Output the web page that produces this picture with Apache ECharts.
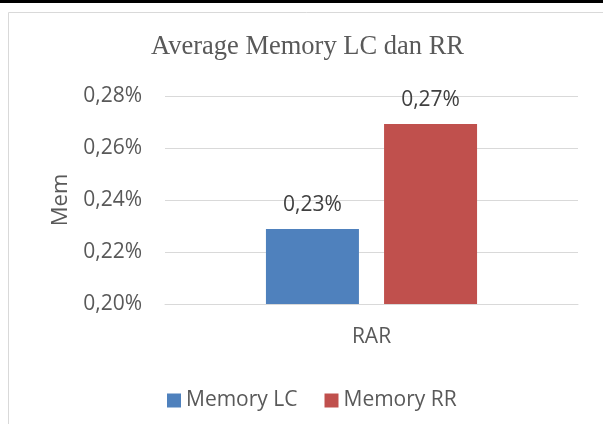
<!DOCTYPE html>
<html>
<head>
<meta charset="utf-8">
<script src="https://cdn.jsdelivr.net/npm/echarts@6/dist/echarts.min.js"></script>
<style>
  html, body { margin: 0; padding: 0; background: #fff; }
  #chart { width: 603px; height: 424px; }
</style>
</head>
<body>
<div id="chart"></div>
<script>
const categories = ['RAR']
const seriesNames = ['Memory LC', 'Memory RR']
const memoryLC = [0.2288]
const memoryRR = [0.2692]
const yTicks = [0.20, 0.22, 0.24, 0.26, 0.28]

const fmt = v => v.toFixed(2).replace('.', ',') + '%'

const chart = echarts.init(document.getElementById('chart'))

const option = {
  animation: false,
  title: {
    text: 'Average Memory LC dan RR',
    left: 151,
    top: 34,
    padding: 0,
    textStyle: {
      fontFamily: 'Liberation Serif',
      fontSize: 26.5,
      fontWeight: 'normal',
      color: '#595959'
    }
  },
  graphic: [
    { type: 'rect', shape: { x: 0, y: 0, width: 603, height: 3 }, style: { fill: '#000' } },
    { type: 'rect', shape: { x: 8.5, y: 12.5, width: 700, height: 500 }, style: { fill: 'none', stroke: '#d9d9d9', lineWidth: 1 } }
  ],
  legend: {
    data: seriesNames,
    left: 167,
    top: 390,
    padding: 0,
    icon: 'rect',
    itemWidth: 14,
    itemHeight: 14,
    itemGap: 27,
    textStyle: {
      fontFamily: 'Open Sans',
      fontSize: 21,
      color: '#595959'
    }
  },
  grid: {
    left: 165,
    right: 25,
    top: 96,
    bottom: 120,
    containLabel: false
  },
  xAxis: {
    type: 'category',
    data: categories,
    axisLine: { lineStyle: { color: '#d9d9d9' } },
    axisTick: { show: false },
    axisLabel: {
      margin: 23,
      fontFamily: 'Open Sans',
      fontSize: 21,
      color: '#595959'
    }
  },
  yAxis: {
    type: 'value',
    min: yTicks[0],
    max: yTicks[yTicks.length - 1],
    interval: 0.02,
    name: 'Mem',
    nameLocation: 'middle',
    nameGap: 93,
    nameTextStyle: {
      fontFamily: 'Open Sans',
      fontSize: 22,
      color: '#595959'
    },
    axisLine: { show: false },
    axisTick: { show: false },
    splitLine: { lineStyle: { color: '#d9d9d9', width: 1 } },
    axisLabel: {
      margin: 23,
      formatter: fmt,
      fontFamily: 'Open Sans',
      fontSize: 21,
      color: '#595959'
    }
  },
  series: [
    {
      name: seriesNames[0],
      type: 'bar',
      data: memoryLC,
      barWidth: 93,
      barGap: '27%',
      itemStyle: { color: '#4F81BD' },
      label: {
        show: true,
        position: 'top',
        distance: 14,
        formatter: p => fmt(p.value),
        fontFamily: 'Open Sans',
        fontSize: 21,
        color: '#404040'
      }
    },
    {
      name: seriesNames[1],
      type: 'bar',
      data: memoryRR,
      barWidth: 93,
      barGap: '27%',
      itemStyle: { color: '#C0504D' },
      label: {
        show: true,
        position: 'top',
        distance: 14,
        formatter: p => fmt(p.value),
        fontFamily: 'Open Sans',
        fontSize: 21,
        color: '#404040'
      }
    }
  ]
}

chart.setOption(option)
</script>
</body>
</html>
